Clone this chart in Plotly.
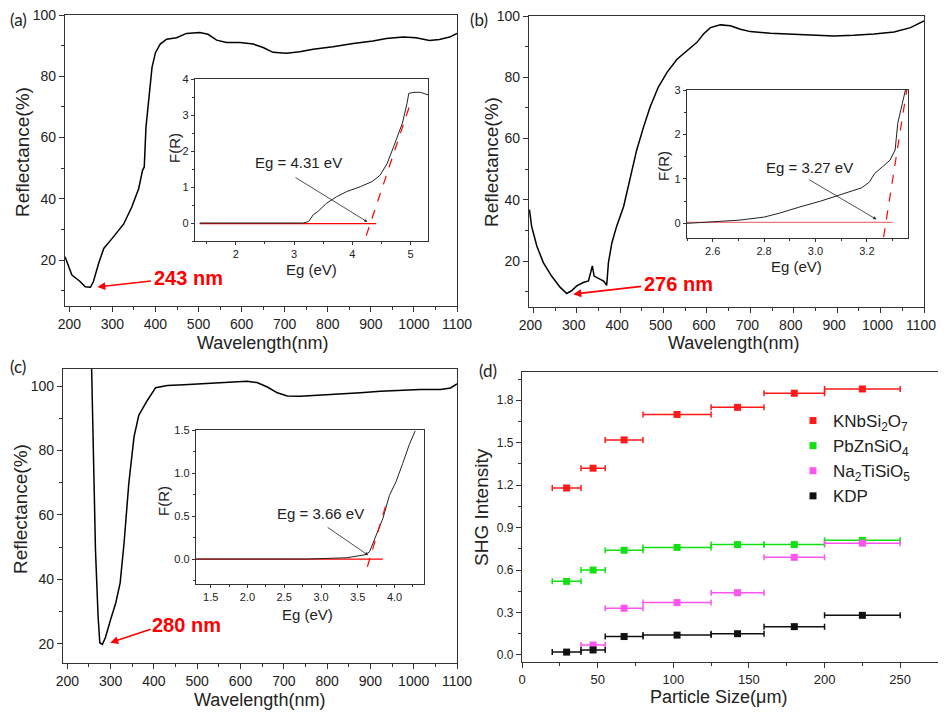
import plotly.graph_objects as go

# ---- (a) reflectance + Kubelka-Munk inset ----
A_WL = [190, 206, 225, 237, 249, 256, 268, 280, 299, 326, 345, 361, 370, 374, 378, 384, 392, 400,
        411, 426, 449, 472, 503, 522, 542, 565, 596, 627, 650, 673, 704, 735, 766, 812, 859, 905,
        936, 975, 1005, 1036, 1059, 1083, 1100]
A_REF = [21.1, 15.1, 13.0, 11.3, 11.1, 13.0, 18.9, 23.8, 27.0, 31.7, 37.3, 43.3, 49.3, 50.4, 63.4,
         72.0, 82.9, 87.7, 90.5, 92.1, 92.6, 94.0, 94.3, 93.7, 91.8, 91.0, 91.0, 90.5, 89.4, 87.8,
         87.5, 88.0, 88.8, 89.6, 90.7, 91.5, 92.3, 92.8, 92.6, 91.7, 92.0, 92.8, 94.0]
A_EG = [1.38, 2.0, 2.6, 3.16, 3.25, 3.33, 3.41, 3.56, 3.73, 3.90, 4.14, 4.34, 4.48, 4.60, 4.71,
        4.86, 4.94, 4.97, 5.06, 5.17, 5.30]
A_FR = [0.0, 0.0, -0.01, 0.0, 0.04, 0.23, 0.32, 0.55, 0.73, 0.87, 1.01, 1.15, 1.33, 1.66, 2.12,
        2.77, 3.32, 3.60, 3.63, 3.63, 3.56]
A_BASE_EG = [1.38, 4.41]
A_BASE_FR = [-0.02, -0.02]
A_FIT_EG = [4.24, 5.01]
A_FIT_FR = [-0.35, 3.38]

# ---- (b) ----
B_WL = [191, 196, 208, 223, 242, 262, 277, 288, 300, 315, 327, 332, 336, 340, 350, 362, 369, 373,
        381, 392, 408, 423, 438, 454, 469, 488, 508, 531, 554, 577, 592, 608, 631, 654, 677, 700,
        746, 792, 838, 892, 938, 985, 1031, 1069, 1100]
B_REF = [36.8, 31.4, 24.9, 19.5, 15.1, 11.4, 9.4, 10.3, 11.9, 13.0, 13.5, 16.2, 18.4, 15.1, 14.3,
         13.5, 12.1, 19.5, 26.0, 31.4, 37.8, 46.5, 56.2, 63.8, 70.3, 76.8, 81.6, 85.9, 88.6, 91.4,
         94.1, 96.2, 97.1, 96.8, 95.7, 94.9, 94.4, 94.1, 93.7, 93.5, 93.7, 94.1, 94.8, 96.2, 98.4]
B_EG = [2.50, 2.60, 2.70, 2.80, 2.86, 2.94, 3.02, 3.10, 3.18, 3.21, 3.23, 3.26, 3.29, 3.31, 3.32, 3.35]
B_FR = [0.0, 0.03, 0.07, 0.14, 0.23, 0.37, 0.50, 0.65, 0.80, 0.93, 1.12, 1.27, 1.42, 1.65, 2.25, 3.0]
B_BASE_EG = [2.50, 3.30]
B_BASE_FR = [0.02, 0.02]
B_FIT_EG = [3.265, 3.355]
B_FIT_FR = [-0.31, 3.0]

# ---- (c) ----
C_WL = [256, 260, 265, 271, 275, 281, 288, 300, 312, 322, 331, 342, 354, 365, 385, 404, 431, 469,
        508, 546, 585, 615, 638, 662, 685, 708, 738, 785, 831, 877, 923, 969, 1015, 1062, 1085, 1100]
C_REF = [106, 80.1, 49.2, 28.6, 20.3, 19.8, 21.9, 27.5, 32.7, 38.9, 51.2, 69.8, 84.2, 90.9, 95.6,
         99.5, 100.2, 100.4, 100.7, 101.0, 101.4, 101.5, 101.1, 99.7, 97.9, 96.9, 96.8, 97.1, 97.6,
         97.9, 98.4, 98.7, 98.9, 98.9, 99.4, 100.7]
C_EG = [1.30, 2.0, 2.8, 3.35, 3.48, 3.60, 3.66, 3.75, 3.84, 3.93, 4.02, 4.11, 4.20, 4.28]
C_FR = [0.0, 0.0, 0.0, 0.015, 0.03, 0.05, 0.085, 0.28, 0.47, 0.74, 0.90, 1.11, 1.33, 1.49]
C_BASE_EG = [1.30, 3.84]
C_BASE_FR = [0.0, 0.0]
C_FIT_EG = [3.63, 3.89]
C_FIT_FR = [-0.09, 0.65]

# ---- (d) SHG vs particle size ----
SIZE_LO = [20, 39, 55, 80, 125, 160, 200]
SIZE_HI = [39, 55, 80, 125, 160, 200, 250]
KNBSI2O7 = [1.18, 1.32, 1.52, 1.70, 1.75, 1.85, 1.88]
PBZNSIO4 = [0.52, 0.60, 0.74, 0.76, 0.78, 0.78, 0.81]
NA2TISIO5 = [None, 0.07, 0.33, 0.37, 0.44, 0.69, 0.79]
KDP = [0.02, 0.035, 0.13, 0.14, 0.15, 0.20, 0.28]

FONT = "Liberation Sans, Arial, sans-serif"
# page body has an 8px margin, so the figure is a bit smaller and offset by it
OFF = 8
W, H = 946 - 2 * OFF, 718 - 2 * OFF


def axis(domain, rng, dtick, minor, anchor, size=14, fmt=None, tick0=None, ticklen=5, shift=0):
    d = dict(domain=domain, range=rng, dtick=dtick, anchor=anchor, automargin=False,
             showline=True, linecolor="#333", linewidth=1.3, mirror=True,
             ticks="outside", ticklen=ticklen, tickwidth=1, tickcolor="#333",
             minor=dict(dtick=minor, ticks="outside", ticklen=max(ticklen - 2, 2), tickcolor="#333"),
             showgrid=False, zeroline=False, ticklabeloverflow="allow",
             tickfont=dict(family=FONT, size=size, color="#222"))
    if tick0 is not None:
        d["tick0"] = tick0
    if fmt:
        d["tickformat"] = fmt
    if shift:
        d["ticklabelshift"] = shift
    return d


def inset(domain, rng, dtick, minor, anchor, fmt=None):
    return axis(domain, rng, dtick, minor, anchor, size=11, fmt=fmt, ticklen=3)


def fx(x):
    return (x - OFF) / W


def fy(y):
    return 1 - (y - OFF) / H


def px(x0, x1):
    return [fx(x0), fx(x1)]


def py(top, bottom):
    return [fy(bottom), fy(top)]


fig = go.Figure()

panels = [
    (A_WL, A_REF, A_EG, A_FR, A_BASE_EG, A_BASE_FR, A_FIT_EG, A_FIT_FR, "", "2", "rgba(255,0,0,1)"),
    (B_WL, B_REF, B_EG, B_FR, B_BASE_EG, B_BASE_FR, B_FIT_EG, B_FIT_FR, "3", "4", "rgba(240,120,120,1)"),
    (C_WL, C_REF, C_EG, C_FR, C_BASE_EG, C_BASE_FR, C_FIT_EG, C_FIT_FR, "5", "6", "rgba(255,0,0,1)"),
]
for wl, ref, eg, fr, beg, bfr, feg, ffr, m, i, basecol in panels:
    fig.add_trace(go.Scatter(x=wl, y=ref, mode="lines", line=dict(color="black", width=1.5),
                             xaxis="x" + m, yaxis="y" + m, showlegend=False))
    fig.add_trace(go.Scatter(x=beg, y=bfr, mode="lines", line=dict(color=basecol, width=1.2),
                             xaxis="x" + i, yaxis="y" + i, showlegend=False))
    fig.add_trace(go.Scatter(x=eg, y=fr, mode="lines", line=dict(color="#222", width=1),
                             xaxis="x" + i, yaxis="y" + i, showlegend=False))
    fig.add_trace(go.Scatter(x=feg, y=ffr, mode="lines", line=dict(color="red", width=1.2, dash="dash"),
                             xaxis="x" + i, yaxis="y" + i, showlegend=False))

# panel (d)
centers = [(lo + hi) / 2 for lo, hi in zip(SIZE_LO, SIZE_HI)]
halfw = [(hi - lo) / 2 for lo, hi in zip(SIZE_LO, SIZE_HI)]
series = [
    ("KNbSi<sub>2</sub>O<sub>7</sub>", KNBSI2O7, "#ff1a1a"),
    ("PbZnSiO<sub>4</sub>", PBZNSIO4, "#11e011"),
    ("Na<sub>2</sub>TiSiO<sub>5</sub>", NA2TISIO5, "#ff55ee"),
    ("KDP", KDP, "#111111"),
]
for name, vals, col in series:
    fig.add_trace(go.Scatter(
        x=centers, y=vals, mode="markers", name=name, xaxis="x7", yaxis="y7",
        marker=dict(symbol="square", size=7, color=col),
        error_x=dict(type="data", array=halfw, color=col, thickness=1.5, width=3),
    ))

fig.update_layout(
    width=W, height=H, margin=dict(l=0, r=0, t=0, b=0),
    paper_bgcolor="white", plot_bgcolor="white",
    font=dict(family=FONT, color="#222"),
    xaxis=axis(px(65, 457), [190, 1100], 100, 50, "y"),
    yaxis=axis(py(15, 306), [5, 100], 20, 10, "x"),
    xaxis2=inset(px(195, 428), [1.3, 5.3], 1, 0.5, "y2"),
    yaxis2=inset(py(79, 241), [-0.5, 4], 1, 0.5, "x2"),
    xaxis3=axis(px(529, 924), [190, 1100], 100, 50, "y3", shift=-3),
    yaxis3=axis(py(16, 307), [5, 100], 20, 10, "x3"),
    xaxis4=inset(px(687, 908), [2.5, 3.36], 0.2, 0.1, "y4", fmt=".1f"),
    yaxis4=inset(py(90, 238), [-0.33, 3], 1, 0.5, "x4"),
    xaxis5=axis(px(63, 457), [190, 1100], 100, 50, "y5"),
    yaxis5=axis(py(369, 663), [14, 105.3], 20, 10, "x5"),
    xaxis6=inset(px(196, 424), [1.3, 4.4], 0.5, 0.25, "y6", fmt=".1f"),
    yaxis6=inset(py(430, 584), [-0.29, 1.5], 0.5, 0.25, "x6", fmt=".1f"),
    xaxis7=axis(px(522, 938), [0, 275], 50, 25, "y7", size=13),
    yaxis7=axis(py(372, 662), [-0.05, 2.0], 0.3, 0.15, "x7", size=12, fmt=".1f", tick0=0),
    legend=dict(x=fx(793), y=fy(403), xanchor="left", yanchor="top",
                font=dict(family=FONT, size=17, color="#222"), bgcolor="rgba(0,0,0,0)",
                itemwidth=30, tracegroupgap=2),
)

ann = []
# red wavelength labels with arrows: (text, x, y, tail_x, tail_y, head_x, head_y, xref, yref)
red_labels = [
    ("243 nm", 476, 14.1, 393, 13.2, 265, 11.2, "x", "y"),
    ("276 nm", 535, 12.5, 452, 11.8, 292, 9.2, "x3", "y3"),
    ("280 nm", 475, 25.9, 396, 24.6, 299, 20.3, "x5", "y5"),
]
for t, tx, ty, ax, ay, hx, hy, xr, yr in red_labels:
    ann.append(dict(text="<b>%s</b>" % t, x=tx, y=ty, xref=xr, yref=yr, showarrow=False,
                    font=dict(family=FONT, size=20, color="red")))
    ann.append(dict(text="", x=hx, y=hy, ax=ax, ay=ay, xref=xr, yref=yr, axref=xr, ayref=yr,
                    showarrow=True, arrowhead=2, arrowsize=1, arrowwidth=1.6, arrowcolor="red"))

eg_labels = [
    ("Eg = 4.31 eV", 3.07, 1.68, 3.0, 1.29, 4.26, 0.03, "x2", "y2"),
    ("Eg = 3.27 eV", 2.977, 1.25, 2.97, 1.0, 3.237, 0.09, "x4", "y4"),
    ("Eg = 3.66 eV", 2.99, 0.535, 3.07, 0.38, 3.64, 0.045, "x6", "y6"),
]
for t, tx, ty, ax, ay, hx, hy, xr, yr in eg_labels:
    ann.append(dict(text=t, x=tx, y=ty, xref=xr, yref=yr, showarrow=False,
                    font=dict(family=FONT, size=15, color="#222")))
    ann.append(dict(text="", x=hx, y=hy, ax=ax, ay=ay, xref=xr, yref=yr, axref=xr, ayref=yr,
                    showarrow=True, arrowhead=2, arrowsize=0.8, arrowwidth=0.8, arrowcolor="#222"))

# axis titles placed by hand (pixel centres)
titles = [
    ("Wavelength(nm)", 262, 343, 0, 18), ("Reflectance(%)", 23, 152, -90, 19),
    ("Wavelength(nm)", 733, 343, 0, 18), ("Reflectance(%)", 491, 162, -90, 19),
    ("Wavelength(nm)", 259, 700, 0, 18), ("Reflectance(%)", 20, 509, -90, 19),
    ("Particle Size(μm)", 718, 697, 0, 18), ("SHG Intensity", 482, 507, -90, 19),
    ("Eg (eV)", 311, 269, 0, 15), ("F(R)", 174, 148, -90, 15),
    ("Eg (eV)", 796, 266, 0, 15), ("F(R)", 664, 166, -90, 15),
    ("Eg (eV)", 307, 614, 0, 15), ("F(R)", 163, 501, -90, 15),
]
for t, tx, ty, rot, sz in titles:
    ann.append(dict(text=t, x=fx(tx), y=fy(ty), xref="paper", yref="paper", textangle=rot,
                    xanchor="center", yanchor="middle", showarrow=False,
                    font=dict(family=FONT, size=sz, color="#222")))

for lab, lx, ly in [("(a)", 8, 19), ("(b)", 468, 19), ("(c)", 8, 366), ("(d)", 477, 370)]:
    ann.append(dict(text=lab, x=fx(lx), y=fy(ly), xref="paper", yref="paper",
                    xanchor="left", yanchor="middle", showarrow=False,
                    font=dict(family="Lato, sans-serif", size=17, color="#222")))

fig.update_layout(annotations=ann)
fig.write_html("out.html")
